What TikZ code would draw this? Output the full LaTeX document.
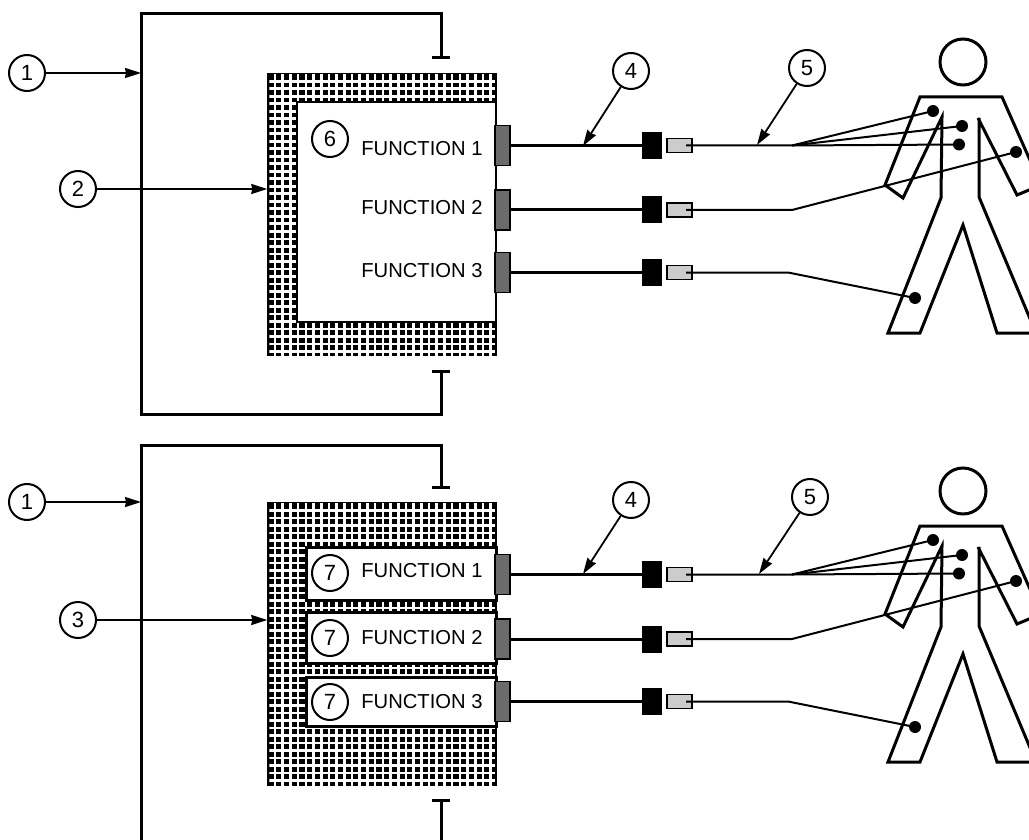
\documentclass[tikz,border=0pt]{standalone}
\usepackage{fontspec}
\setmainfont{Liberation Sans}
\usetikzlibrary{arrows.meta}
\newlength{\du}
\setlength{\du}{0.5pt}
\tikzset{
  bracketline/.style={draw=black,line width=3\du},
  leader/.style={draw=black,line width=1.8\du,-{Stealth[length=8pt,width=5pt,inset=0.5pt]}},
  callout/.style={circle,draw=black,fill=white,line width=2\du,minimum size=36\du,inner sep=0pt,font=\fontsize{11}{13}\selectfont},
  fnlabel/.style={anchor=west,inner sep=0pt,font=\fontsize{10.1}{12}\selectfont},
  housing/.style={rectangle,fill=black,draw=black,line width=1.5\du,inner sep=0pt,minimum width=228\du},
  meshline/.style={draw=white,line width=2.6\du},
  panel/.style={rectangle,fill=white,draw=black,line width=3\du,inner sep=0pt},
  port/.style={rectangle,fill=black!58,draw=black,line width=1.2\du,inner sep=0pt,minimum width=15\du,minimum height=40\du},
  jack/.style={rectangle,fill=black,inner sep=0pt,minimum width=20\du,minimum height=27\du},
  plug/.style={rectangle,fill=black!20,draw=black,line width=1.5\du,inner sep=0pt,minimum width=25\du,minimum height=14\du},
  lead/.style={draw=black,line width=3\du},
  wire/.style={draw=black,line width=2\du},
  bodyline/.style={draw=black,line width=3\du,line join=miter},
  electrode/.style={circle,fill=black,inner sep=0pt,minimum size=12\du}
}

\begin{document}
\begin{tikzpicture}
\pgftransformxscale{1.000000}
\pgftransformyscale{-1.000000}
\useasboundingbox (0\du,0\du) rectangle (1029\du,840\du);
\clip (0\du,0\du) rectangle (1029\du,840\du);
% enclosures
\draw[bracketline] (441\du,57\du) -- (441\du,14\du) -- (141\du,14\du) -- (141\du,414\du) -- (441\du,414\du) -- (441\du,371\du);
\draw[bracketline] (432\du,58\du) -- (450\du,58\du);
\draw[bracketline] (432\du,371\du) -- (450\du,371\du);
\draw[bracketline] (441\du,487\du) -- (441\du,445\du) -- (141\du,445\du) -- (141\du,840\du);
\draw[bracketline] (432\du,487\du) -- (450\du,487\du);
\draw[bracketline] (432\du,800\du) -- (450\du,800\du);
\draw[bracketline] (441\du,800\du) -- (441\du,840\du);
% meshed housings
\node[housing,minimum height=281\du] (housinga) at (382\du,214.5\du){};
\node[housing,minimum height=282\du] (housingb) at (382\du,644\du){};
\foreach \tg/\top in {a/74,b/503}{
  \begin{scope}
  \clip ([xshift=2\du,yshift=-2\du]housing\tg.north west) rectangle ([xshift=-2\du,yshift=2\du]housing\tg.south east);
  \foreach \i in {0,...,29}{
    \draw[meshline] (275\du+7.7*\i\du,\top\du) -- (275\du+7.7*\i\du,\top\du+285\du);
  }
  \foreach \i in {0,...,37}{
    \draw[meshline] (268\du,\top\du+7.3\du+7.5*\i\du) -- (496\du,\top\du+7.3\du+7.5*\i\du);
  }
  \end{scope}
}
\node[panel,line width=1.5\du,minimum width=199\du,minimum height=220\du] (panela) at (396.5\du,212\du){};
\node[panel,minimum width=190\du,minimum height=53\du] (panel1b) at (401\du,573.5\du){};
\node[panel,minimum width=190\du,minimum height=51\du] (panel2b) at (401\du,638\du){};
\node[panel,minimum width=190\du,minimum height=49\du] (panel3b) at (401\du,702\du){};
% labels
\node[fnlabel] (fn1a) at (361\du,149\du){FUNCTION 1};
\node[fnlabel] (fn2a) at (361\du,208\du){FUNCTION 2};
\node[fnlabel] (fn3a) at (361\du,271\du){FUNCTION 3};
\node[fnlabel] (fn1b) at (361\du,571\du){FUNCTION 1};
\node[fnlabel] (fn2b) at (361\du,638\du){FUNCTION 2};
\node[fnlabel] (fn3b) at (361\du,702\du){FUNCTION 3};
\node[callout] (six) at (330\du,139\du){6};
\node[callout] (seven1) at (330\du,573\du){7};
\node[callout] (seven2) at (330\du,638\du){7};
\node[callout] (seven3) at (330\du,702\du){7};
% leads, plugs and the person, twice
\foreach \tg/\yo in {a/0,b/429}{
  \begin{scope}[yshift=\yo\du]
  \foreach \n/\y in {1/145.5,2/210,3/272.5}{
    \node[port] (port\n\tg) at (502.5\du,\y\du){};
    \node[jack] (jack\n\tg) at (652\du,\y\du){};
    \node[plug] (plug\n\tg) at (679.5\du,\y\du){};
    \coordinate (pin\n\tg) at (686\du,\y\du);
    \draw[lead] (port\n\tg) -- (jack\n\tg);
  }
  \node[draw=black,line width=3\du,circle,inner sep=0pt,minimum size=46\du] (head\tg) at (963\du,62\du){};
  \draw[bodyline] (979\du,118\du) -- (979\du,197\du) -- (1036\du,333\du) -- (997\du,333\du) -- (963\du,225\du) -- (920\du,333\du) -- (888\du,333\du) -- (941\du,198\du) -- (942\du,117\du) -- (903\du,198\du) -- (885\du,185\du) -- (920\du,97\du) -- (1002\du,97\du) -- (1041\du,185\du) -- (1017\du,195\du) -- (978\du,118\du);
  \node[electrode] (dot1\tg) at (933\du,111\du){};
  \node[electrode] (dot2\tg) at (962\du,126\du){};
  \node[electrode] (dot3\tg) at (959\du,144.5\du){};
  \node[electrode] (dot4\tg) at (1016\du,152\du){};
  \node[electrode] (dot5\tg) at (915\du,298\du){};
  \coordinate (fork\tg) at (792\du,145.5\du);
  \coordinate (bend\tg) at (792\du,210\du);
  \coordinate (knee\tg) at (788\du,272.5\du);
  \draw[wire] (pin1\tg) -- (fork\tg) -- (dot1\tg.center);
  \draw[wire] (fork\tg) -- (dot2\tg.center);
  \draw[wire] (fork\tg) -- (dot3\tg.center);
  \draw[wire] (pin2\tg) -- (bend\tg) -- (dot4\tg.center);
  \draw[wire] (pin3\tg) -- (knee\tg) -- (dot5\tg.center);
  \end{scope}
}
% numbered leaders
\node[callout] (onea) at (27\du,73\du){1};
\node[callout] (two) at (78\du,189\du){2};
\node[callout] (foura) at (631\du,71\du){4};
\node[callout] (fivea) at (807\du,68\du){5};
\node[callout] (oneb) at (27\du,502\du){1};
\node[callout] (three) at (78\du,620\du){3};
\node[callout] (fourb) at (631\du,500\du){4};
\node[callout] (fiveb) at (810\du,497\du){5};
\coordinate (hita) at (141\du,73\du);
\coordinate (hitb) at (141\du,502\du);
\coordinate (hitfoura) at (583\du,146\du);
\coordinate (hitfivea) at (757\du,145\du);
\coordinate (hitfourb) at (583\du,574\du);
\coordinate (hitfiveb) at (759\du,574\du);
\draw[leader] (onea) -- (hita);
\draw[leader] (two) -- (two -| housinga.west);
\draw[leader] (foura) -- (hitfoura);
\draw[leader] (fivea) -- (hitfivea);
\draw[leader] (oneb) -- (hitb);
\draw[leader] (three) -- (three -| housingb.west);
\draw[leader] (fourb) -- (hitfourb);
\draw[leader] (fiveb) -- (hitfiveb);
\end{tikzpicture}
\end{document}
